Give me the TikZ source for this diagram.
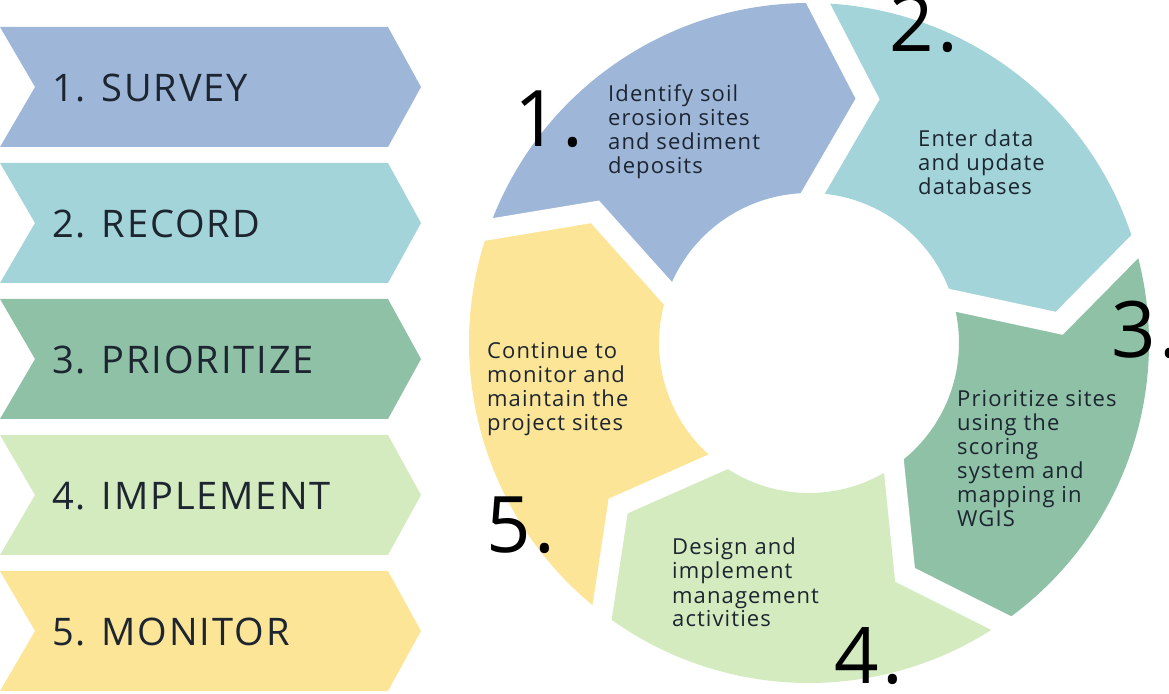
\documentclass[tikz,border=0pt]{standalone}
\usepackage{fontspec}
\setmainfont{Open Sans}[LetterSpace=5]
\usetikzlibrary{calc}

\definecolor{survey}{HTML}{9EB7D9}
\definecolor{record}{HTML}{A3D4DA}
\definecolor{prior}{HTML}{8EC1A6}
\definecolor{implement}{HTML}{D3EBBE}
\definecolor{monitor}{HTML}{FDE597}
\definecolor{ink}{HTML}{1C2530}

\begin{document}
\begin{tikzpicture}[x=1pt,y=1pt,
  band/.style={inner sep=0pt,anchor=base west,text=ink,font=\fontsize{38}{40}\selectfont},
  steptext/.style={inner sep=0pt,anchor=base west,align=left,text=ink,font=\fontsize{22}{24}\selectfont},
  bignum/.style={inner sep=0pt,anchor=base west,text=black,font=\fontsize{78}{80}\selectfont},
  gap/.style={white,line width=21pt,line join=miter,shorten <=-14pt,shorten >=-14pt}]

\useasboundingbox (0,0) rectangle (1169,693);

\foreach \col/\top in {survey/666,record/530,prior/394,implement/258,monitor/122}
  \fill[\col] (0,\top) -- (388,\top) -- (421,\top-60) -- (388,\top-120) -- (0,\top-120) -- (35,\top-60) -- cycle;

\node[band] (survey) at (52,591) {1. SURVEY};
\node[band] (record) at (52,455) {2. RECORD};
\node[band] (prioritize) at (52,319) {3. PRIORITIZE};
\node[band] (implement) at (52,183) {4. IMPLEMENT};
\node[band] (monitor) at (52,47) {5. MONITOR};

\coordinate (c) at (809,350);
\foreach \col [count=\i] in {survey,record,prior,implement,monitor} {
  \pgfmathsetmacro\a{160.5-72*(\i-1)}
  \pgfmathsetmacro\b{\a-72}
  \fill[\col] ($(c)+(\a:340)$) arc[start angle=\a,end angle=\b,radius=340]
    -- ($(c)+({\b-12}:251)$) -- ($(c)+(\b:150)$)
    arc[start angle=\b,end angle=\a,radius=150]
    -- ($(c)+({\a-12}:251)$) -- cycle;
}
\foreach \i in {0,...,4}
  \draw[gap] ($(c)+({160.5-72*\i}:340)$) -- ($(c)+({148.5-72*\i}:251)$) -- ($(c)+({160.5-72*\i}:150)$);

\node[steptext] (identify) at (608,519) {Identify soil\\erosion sites\\and sediment\\deposits};
\node[steptext] (enter) at (918,498) {Enter data\\and update\\databases};
\node[steptext] (rank) at (957,166) {Prioritize sites\\using the\\scoring\\system and\\mapping in\\WGIS};
\node[steptext] (design) at (672,66) {Design and\\implement\\management\\activities};
\node[steptext] (continue) at (487,262) {Continue to\\monitor and\\maintain the\\project sites};

\node[bignum] (one) at (514,546) {1.};
\node[bignum] (two) at (889,641) {2.};
\node[bignum] (three) at (1111,335) {3.};
\node[bignum] (four) at (834,10) {4.};
\node[bignum] (five) at (486,140) {5.};
\end{tikzpicture}
\end{document}
